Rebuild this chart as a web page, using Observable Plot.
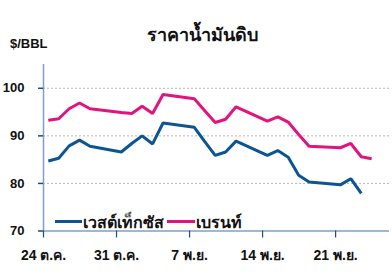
<!DOCTYPE html>
<html>
<head>
<meta charset="utf-8">
<script src="https://cdn.jsdelivr.net/npm/d3@7"></script>
<script src="https://cdn.jsdelivr.net/npm/@observablehq/plot@0.6"></script>
<style>
  html, body { margin: 0; padding: 0; background: #fff; }
  #wrap { position: relative; width: 392px; height: 275px; overflow: hidden; font-family: "Liberation Sans", "Noto Sans", sans-serif; }
  #wrap svg { position: absolute; left: 0; top: 0; }
  .ov { position: absolute; white-space: nowrap; font-weight: bold; color: #111; }
  #title { left: 0; width: 404px; text-align: center; top: 20px; font-size: 18px; }
  #unit { left: 10px; top: 36px; font-size: 13px; }
  .lg { position: absolute; top: 210px; font-size: 16px; font-weight: bold; color: #111; }
  .sw { position: absolute; height: 3px; top: 220px; }
</style>
</head>
<body>
<div id="wrap">
  <div id="title" class="ov">ราคาน้ำมันดิบ</div>
  <div id="unit" class="ov">$/BBL</div>
</div>
<script>
// ---- data ----
const dates = ["2022-10-24","2022-10-25","2022-10-26","2022-10-27","2022-10-28",
  "2022-10-31","2022-11-01","2022-11-02","2022-11-03","2022-11-04",
  "2022-11-07","2022-11-08","2022-11-09","2022-11-10","2022-11-11",
  "2022-11-14","2022-11-15","2022-11-16","2022-11-17","2022-11-18",
  "2022-11-21","2022-11-22","2022-11-23","2022-11-24"];
const wti = [84.7,85.3,87.9,89.1,87.8, 86.6,88.4,90.0,88.3,92.7, 91.8,88.8,85.9,86.6,88.9,
  85.9,86.9,85.5,81.7,80.3, 79.7,81.0,77.9,null];
const brent = [93.3,93.6,95.7,96.9,95.7, 94.9,94.7,96.2,94.7,98.7, 97.8,95.3,92.8,93.5,96.1,
  93.1,94.0,92.9,90.3,87.8, 87.5,88.4,85.6,85.2];
const seriesNames = ["เวสต์เท็กซัส", "เบรนท์"];
const seriesColors = ["#0c5594", "#e2137f"];
const tickDates = ["2022-10-24","2022-10-31","2022-11-07","2022-11-14","2022-11-21"];
const tickLabels = ["24 ต.ค.","31 ต.ค.","7 พ.ย.","14 พ.ย.","21 พ.ย."];
const yTicks = [70, 80, 90, 100];
const gridValues = [80, 90, 100];
const yDomain = [70, 105];
const xDomain = ["2022-10-24T00:00Z", "2022-11-26T04:00Z"];

// ---- build ----
const parse = s => new Date(s + "T11:00Z");
const rows = [];
dates.forEach((d, i) => {
  rows.push({date: parse(d), series: seriesNames[0], value: wti[i]});
  rows.push({date: parse(d), series: seriesNames[1], value: brent[i]});
});
const tickDateObjs = tickDates.map(s => new Date(s + "T00:00Z"));
const labelOf = new Map(tickDateObjs.map((d, i) => [+d, tickLabels[i]]));

const chart = Plot.plot({
  width: 392,
  height: 275,
  marginLeft: 43,
  marginRight: 3,
  marginTop: 64,
  marginBottom: 44.5,
  style: {fontFamily: "Liberation Sans, sans-serif", background: "transparent", overflow: "visible"},
  x: {type: "utc", domain: xDomain.map(s => new Date(s))},
  y: {domain: yDomain},
  color: {domain: seriesNames, range: seriesColors},
  marks: [
    Plot.ruleY(gridValues, {stroke: "#b8b8b8", strokeDasharray: "2,2", strokeWidth: 1}),
    Plot.ruleX([new Date(xDomain[0])], {y1: yDomain[0], y2: yDomain[1], stroke: "#7d9fc8", strokeWidth: 1.5}),
    Plot.ruleY([yDomain[0]], {stroke: "#7d9fc8", strokeWidth: 1.5}),
    Plot.axisY({ticks: yTicks, tickSize: 5, tickPadding: 14, stroke: "#1d4e80", strokeWidth: 1.5,
      fontSize: 13, fontWeight: "bold", fill: "#111", label: null}),
    Plot.axisX({ticks: tickDateObjs, tickSize: 7, tickPadding: 12, stroke: "#1d4e80", strokeWidth: 1.2,
      tickFormat: d => labelOf.get(+d), fontSize: 14, fontWeight: "bold", fill: "#111", label: null}),
    Plot.line(rows, {x: "date", y: "value", z: "series", stroke: "series", strokeWidth: 3,
      strokeLinejoin: "miter", strokeLinecap: "butt"})
  ]
});
const wrap = document.getElementById("wrap");
wrap.insertBefore(chart, wrap.firstChild);

// legend
const lg = [[55, 83], [167, 196]];
seriesNames.forEach((n, i) => {
  const sw = document.createElement("div");
  sw.className = "sw";
  sw.style.left = lg[i][0] + "px";
  sw.style.width = (lg[i][1] - lg[i][0] - 1) + "px";
  sw.style.background = seriesColors[i];
  wrap.appendChild(sw);
  const t = document.createElement("div");
  t.className = "lg";
  t.style.left = lg[i][1] + "px";
  t.textContent = n;
  wrap.appendChild(t);
});
</script>
</body>
</html>
